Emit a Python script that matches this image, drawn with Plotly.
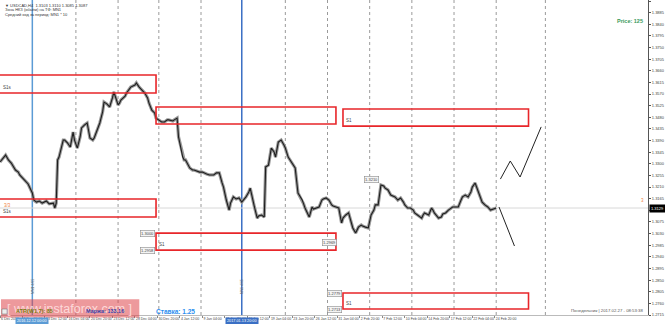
import plotly.graph_objects as go

# ---- price series (H4 bar index, close) ----
bars = [0, 2, 4, 6, 8, 11, 13, 14, 16, 18, 20, 21, 23, 24, 26, 28, 30, 33, 35, 38, 39, 40,
        41, 42, 45, 46, 48, 50, 52, 53, 55, 57, 58, 60, 62, 64, 66, 67, 69, 71, 73, 74, 76, 78,
        80, 81, 84, 85, 86, 89, 90, 92, 93, 96, 97, 99, 101, 103, 105, 106, 108, 110, 111, 113,
        115, 117, 119, 120, 123, 124, 126, 127, 130, 131, 132, 135, 137, 138, 140, 142, 144, 145,
        147, 149, 151, 152, 154, 156, 158, 159, 161, 163, 164, 166, 168, 170, 172, 174, 175, 177,
        178, 181, 183, 184, 186, 188, 189, 191, 193, 195, 196, 198, 200, 202, 203, 205, 208, 209,
        210, 212, 215, 216, 217, 220, 222, 223, 225, 227, 229, 230, 232, 234, 236, 237, 239, 241,
        243, 244, 246, 248, 250, 251, 253, 255, 257, 258, 260, 262, 264, 266, 267, 269, 271, 273,
        274, 276, 278, 280, 281, 283, 285, 287, 288, 290, 292, 294, 295, 297, 300, 301, 302, 305,
        307, 308, 309, 312, 314, 315, 317, 319, 321, 322, 324, 326, 328, 329, 331, 333, 335, 336,
        338, 340, 342, 343, 345, 347, 349, 351, 352, 353]
closes = [1.3307, 1.3323, 1.3334, 1.3315, 1.3303, 1.3276, 1.3268, 1.3257, 1.3245, 1.3237, 1.3222,
          1.3210, 1.3187, 1.3160, 1.3152, 1.3156, 1.3148, 1.3156, 1.3145, 1.3148, 1.3129, 1.3148,
          1.3315, 1.3326, 1.3392, 1.3392, 1.3381, 1.3365, 1.3423, 1.3392, 1.3361, 1.3404, 1.3439,
          1.3450, 1.3458, 1.3400, 1.3392, 1.3400, 1.3431, 1.3458, 1.3501, 1.3539, 1.3532, 1.3520,
          1.3555, 1.3578, 1.3528, 1.3535, 1.3547, 1.3562, 1.3574, 1.3590, 1.3597, 1.3605, 1.3613,
          1.3597, 1.3586, 1.3574, 1.3555, 1.3535, 1.3508, 1.3497, 1.3477, 1.3470, 1.3462, 1.3462,
          1.3470, 1.3470, 1.3466, 1.3470, 1.3477, 1.3404, 1.3326, 1.3315, 1.3315, 1.3284, 1.3276,
          1.3276, 1.3272, 1.3268, 1.3268, 1.3265, 1.3261, 1.3257, 1.3257, 1.3257, 1.3265, 1.3265,
          1.3226, 1.3210, 1.3160, 1.3121, 1.3148, 1.3172, 1.3164, 1.3168, 1.3152, 1.3164, 1.3172,
          1.3191, 1.3206, 1.3133, 1.3090, 1.3098, 1.3102, 1.3094, 1.3288, 1.3295, 1.3361, 1.3346,
          1.3326, 1.3384, 1.3392, 1.3373, 1.3361, 1.3326, 1.3303, 1.3295, 1.3284, 1.3187, 1.3160,
          1.3145, 1.3129, 1.3094, 1.3133, 1.3125, 1.3129, 1.3133, 1.3160, 1.3164, 1.3168, 1.3160,
          1.3141, 1.3137, 1.3133, 1.3129, 1.3071, 1.3090, 1.3102, 1.3110, 1.3071, 1.3052, 1.3032,
          1.3055, 1.3063, 1.3059, 1.3055, 1.3052, 1.3102, 1.3121, 1.3141, 1.3141, 1.3218, 1.3214,
          1.3206, 1.3199, 1.3179, 1.3175, 1.3172, 1.3160, 1.3168, 1.3152, 1.3141, 1.3129, 1.3129,
          1.3121, 1.3110, 1.3102, 1.3090, 1.3102, 1.3110, 1.3102, 1.3129, 1.3121, 1.3110, 1.3090,
          1.3094, 1.3106, 1.3110, 1.3121, 1.3129, 1.3133, 1.3133, 1.3133, 1.3160, 1.3172, 1.3179,
          1.3172, 1.3191, 1.3210, 1.3226, 1.3199, 1.3168, 1.3152, 1.3141, 1.3133, 1.3121, 1.3125,
          1.3129, 1.3129]

# ---- forecast lines ----
up_bars = [356, 363, 370, 385]
up_prices = [1.3241, 1.3311, 1.3249, 1.3443]
dn_bars = [355, 366]
dn_prices = [1.3133, 1.2982]

# ---- zones (rectangles) ----
zone_x0 = [-5, 111, 244, -5, 111, 244]
zone_x1 = [111, 239, 376, 111, 239, 376]
zone_top = [1.3644, 1.3520, 1.3512, 1.3164, 1.3032, 1.2800]
zone_bot = [1.3574, 1.3454, 1.3446, 1.3094, 1.2966, 1.2738]
zone_lbl = ["S1s", "", "S1", "S1s", "S1", "S1"]

# ---- price tags ----
tag_bars = [110, 110, 239.5, 264, 243.5, 243.5]
tag_prices = [1.3032, 1.2966, 1.2997, 1.3241, 1.2800, 1.2738]
tag_text = ["1.3000", "1.2958", "1.2969", "1.3210", "1.2779", "1.2713"]

# ---- axes ----
price_ticks = [1.2715, 1.2760, 1.2805, 1.2850, 1.2895, 1.2940, 1.2985, 1.3030, 1.3075, 1.3120,
               1.3165, 1.3210, 1.3255, 1.3300, 1.3345, 1.3390, 1.3435, 1.3480, 1.3525, 1.3570,
               1.3615, 1.3660, 1.3705, 1.3750, 1.3795, 1.3840, 1.3885, 1.3930]
time_tick_bars = [0, 16, 32, 48, 64, 80, 96, 112, 128, 144, 160, 176, 192, 208, 224, 240, 256,
                  272, 288, 304, 320, 336, 352]
time_tick_text = ["6 Dec 2016", "8 Dec 20:00", "13 Dec 12:00", "16 Dec 04:00", "20 Dec 20:00",
                  "23 Dec 12:00", "28 Dec 04:00", "30 Dec 20:00", "4 Jan 12:00", "9 Jan 04:00",
                  "11 Jan 20:00", "16 Jan 12:00", "19 Jan 04:00", "23 Jan 20:00", "26 Jan 12:00",
                  "31 Jan 04:00", "2 Feb 20:00", "7 Feb 12:00", "10 Feb 04:00", "14 Feb 20:00",
                  "17 Feb 12:00", "22 Feb 04:00", "24 Feb 20:00"]
week_sep_bars = [54, 84, 113, 143, 203, 233, 263, 293, 323, 353, 388]
vline_bars = [23, 172]
vline_colors = ["#5b9bd5", "#3a6fc4"]
vline_text = ["2016.12.12 00:00", "2017.01.13 20:00"]

X_RANGE = [0, 461]
Y_RANGE = [1.2715, 1.3934]
FONT = "Liberation Sans, DejaVu Sans, sans-serif"

fig = go.Figure()

fig.add_trace(go.Scatter(x=bars, y=closes, mode="lines",
                         line=dict(color="#9a9a9a", width=3.2), hoverinfo="skip"))
fig.add_trace(go.Scatter(x=bars, y=closes, mode="lines",
                         line=dict(color="#1e1e1e", width=1.1), hoverinfo="skip"))
fig.add_trace(go.Scatter(x=up_bars, y=up_prices, mode="lines",
                         line=dict(color="#222", width=1), hoverinfo="skip"))
fig.add_trace(go.Scatter(x=dn_bars, y=dn_prices, mode="lines",
                         line=dict(color="#222", width=1), hoverinfo="skip"))

shapes = []
for b in week_sep_bars:
    shapes.append(dict(type="line", xref="x", yref="paper", x0=b, x1=b, y0=0, y1=1,
                       line=dict(color="#9a9a9a", width=1, dash="dot"), layer="below"))
for b, c in zip(vline_bars, vline_colors):
    shapes.append(dict(type="line", xref="x", yref="paper", x0=b, x1=b, y0=0, y1=1,
                       line=dict(color=c, width=1.5), layer="below"))
# current price line
shapes.append(dict(type="line", xref="paper", yref="y", x0=0, x1=1, y0=closes[-1], y1=closes[-1],
                   line=dict(color="#d8d8d8", width=1), layer="below"))
for x0, x1, t, b in zip(zone_x0, zone_x1, zone_top, zone_bot):
    shapes.append(dict(type="rect", xref="x", yref="y", x0=x0, x1=x1, y0=b, y1=t,
                       line=dict(color="#e8262a", width=1.6), fillcolor="rgba(0,0,0,0)"))
# watermark band
shapes.append(dict(type="rect", xref="paper", yref="paper", x0=0.0015, x1=0.215, y0=-0.008, y1=0.05,
                   line=dict(width=0), fillcolor="rgba(222,70,75,0.55)", layer="above"))
shapes.append(dict(type="rect", xref="paper", yref="paper", x0=0.003, x1=0.011, y0=0.003, y1=0.019,
                   line=dict(color="#777", width=0.6), fillcolor="#eee", layer="above"))

ann = []
for x0, b, lbl in zip(zone_x0, zone_bot, zone_lbl):
    if lbl:
        ann.append(dict(x=max(x0, 0), y=b, xref="x", yref="y", text=lbl, showarrow=False,
                        xanchor="left", yanchor="bottom", xshift=1, yshift=1,
                        font=dict(size=4.5, color="#444", family=FONT)))
ann.append(dict(x=0, y=zone_top[3], xref="x", yref="y", text="3/3", showarrow=False,
                xanchor="left", yanchor="top", xshift=2, yshift=-2,
                font=dict(size=4.5, color="#f08040", family=FONT)))
for b, p, t in zip(tag_bars, tag_prices, tag_text):
    ann.append(dict(x=b, y=p, xref="x", yref="y", text=t, showarrow=False,
                    xanchor="right" if b != 264 else "center", yanchor="middle",
                    bgcolor="#f4f4f4", bordercolor="#8a8a8a", borderwidth=0.6, borderpad=0.5,
                    font=dict(size=4, color="#444", family=FONT)))
# header text
header = ["\u25bc USDCAD,H4  1.3103 1.3110 1.3085 1.3087",
          "Зона НКЗ (объём) на ТФ: MN1",
          "Средний ход за период: MN1 * 10"]
for i, h in enumerate(header):
    ann.append(dict(x=0.004, y=1 - (1.2 + 4.2 * i) / 315, xref="paper", yref="paper", text=h,
                    showarrow=False, xanchor="left", yanchor="top",
                    font=dict(size=4, color="#333", family=FONT)))
ann.append(dict(x=0.996, y=1 - 21 / 315, xref="paper", yref="paper", text="<b>Price: 125</b>",
                showarrow=False, xanchor="right", yanchor="middle",
                font=dict(size=5.5, color="#3a9a5a", family=FONT)))
ann.append(dict(x=1, y=closes[-1], xref="paper", yref="y", text=f"{closes[-1]:.4f}",
                showarrow=False, xanchor="left", yanchor="middle", xshift=1,
                bgcolor="#000", font=dict(size=4, color="#fff", family=FONT)))
ann.append(dict(x=1, y=closes[-1], xref="paper", yref="y", text="3", showarrow=False,
                xanchor="right", yanchor="bottom", xshift=-2, yshift=3,
                font=dict(size=4.5, color="#f08040", family=FONT)))
ann.append(dict(x=0.996, y=0.0, xref="paper", yref="paper",
                text="Понедельник | 2017.02.27 - 08:53:38", showarrow=False,
                xanchor="right", yanchor="bottom", yshift=0,
                font=dict(size=4.3, color="#555", family=FONT)))
# watermark / info line
ann.append(dict(x=0.108, y=0.02, xref="paper", yref="paper", text="[ www.instaforex.com ]",
                showarrow=False, xanchor="center", yanchor="middle",
                font=dict(size=12.5, color="rgba(255,225,225,0.9)", family=FONT)))
ann.append(dict(x=0.022, y=0.012, xref="paper", yref="paper", text="<b>ATR(W1,7): 85</b>",
                showarrow=False, xanchor="left", yanchor="middle",
                font=dict(size=5.5, color="#7a7a10", family=FONT)))
ann.append(dict(x=0.13, y=0.012, xref="paper", yref="paper", text="<b>Маржа: 133.16</b>",
                showarrow=False, xanchor="left", yanchor="middle",
                font=dict(size=5.5, color="#3b3ba0", family=FONT)))
ann.append(dict(x=0.238, y=0.012, xref="paper", yref="paper", text="<b>Ставка: 1.25</b>",
                showarrow=False, xanchor="left", yanchor="middle",
                font=dict(size=6.5, color="#2a8ef0", family=FONT)))
for b, c, t in zip(vline_bars, vline_colors, vline_text):
    ann.append(dict(x=b, y=0, xref="x", yref="paper", text=t, showarrow=False,
                    xanchor="center", yanchor="top", yshift=-1.5, bgcolor=c,
                    font=dict(size=3.8, color="#fff", family=FONT)))
    ann.append(dict(x=b, y=0.06, xref="x", yref="paper", text="MN1 4/65", showarrow=False,
                    textangle=-90, xanchor="center", yanchor="bottom",
                    font=dict(size=3.5, color="#666", family=FONT)))

fig.update_layout(
    width=665, height=324, margin=dict(l=0, r=14, t=0, b=9),
    paper_bgcolor="#ffffff", plot_bgcolor="#ffffff", showlegend=False,
    shapes=shapes, annotations=ann,
    xaxis=dict(range=X_RANGE, showgrid=False, zeroline=False, tickmode="array",
               tickvals=time_tick_bars, ticktext=time_tick_text, ticks="outside", ticklen=2,
               tickcolor="#888", ticklabelposition="outside right", tickangle=0,
               tickfont=dict(size=3.5, color="#444", family=FONT),
               showline=True, linecolor="#bbb", linewidth=1),
    yaxis=dict(range=Y_RANGE, side="right", showgrid=False, zeroline=False, tickmode="array",
               tickvals=price_ticks, ticktext=[f"{v:.4f}" for v in price_ticks],
               ticks="outside", ticklen=2, tickcolor="#555",
               tickfont=dict(size=4, color="#444", family=FONT),
               showline=True, linecolor="#555", linewidth=1),
)

fig.write_html("out.html")
